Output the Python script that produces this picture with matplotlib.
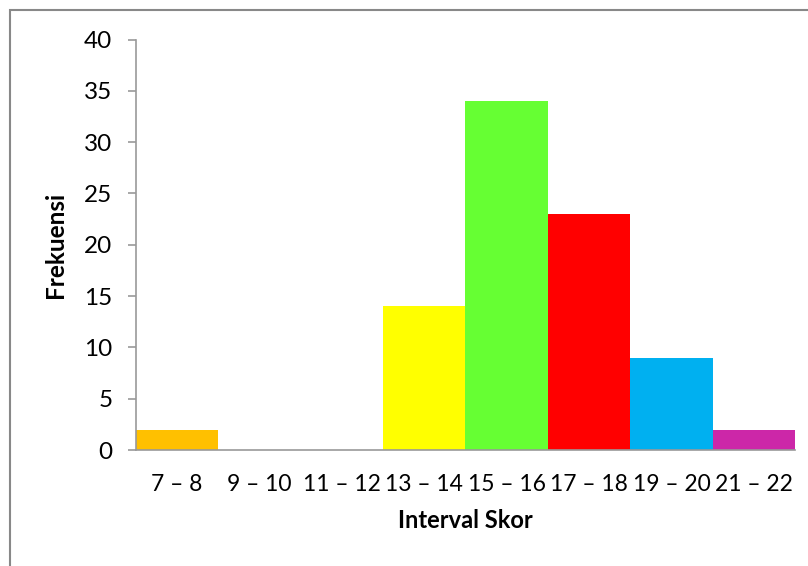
import matplotlib.pyplot as plt
from matplotlib.patches import Rectangle

# data
categories = ['7 – 8', '9 – 10', '11 – 12', '13 – 14', '15 – 16', '17 – 18', '19 – 20', '21 – 22']
frekuensi = [2, 0, 0, 14, 34, 23, 9, 2]
bar_colors = ['#FFC000', '#FFC000', '#FFC000', '#FFFF00', '#66FF33', '#FF0000', '#00B0F0', '#CC27A8']

plt.rcParams['font.family'] = ['Lato', 'DejaVu Sans']

fig = plt.figure(figsize=(8.08, 5.66), dpi=100)
ax = fig.add_axes([0.1683, 0.2049, 0.8156, 0.7253])

x = range(len(categories))
ax.bar(x, frekuensi, width=1.0, color=bar_colors, align='center')

ax.set_xlim(-0.5, len(categories) - 0.5)
ax.set_ylim(0, 40)
ax.set_yticks(range(0, 41, 5))
ax.set_xticks(list(x))
ax.set_xticklabels(categories)

for side in ['top', 'right']:
    ax.spines[side].set_visible(False)
for side in ['left', 'bottom']:
    ax.spines[side].set_color('#999999')
    ax.spines[side].set_linewidth(1.2)

ax.tick_params(axis='y', length=6, width=1.2, color='#999999', labelsize=17.5, pad=11)
ax.tick_params(axis='x', length=0, labelsize=16.5, pad=17)

ax.set_xlabel('Interval Skor', fontsize=17, fontweight='bold', labelpad=10)
ax.set_ylabel('Frekuensi', fontsize=17.5, fontweight='bold', labelpad=12)

# outer chart border (cropped on the right and bottom)
fig.patches.append(Rectangle((10 / 808, -0.05), 1.2, 1 - 10 / 566 + 0.05,
                             transform=fig.transFigure, fill=False,
                             edgecolor='#888888', linewidth=1.5))

fig.savefig('out.png', dpi=100, facecolor='white')
